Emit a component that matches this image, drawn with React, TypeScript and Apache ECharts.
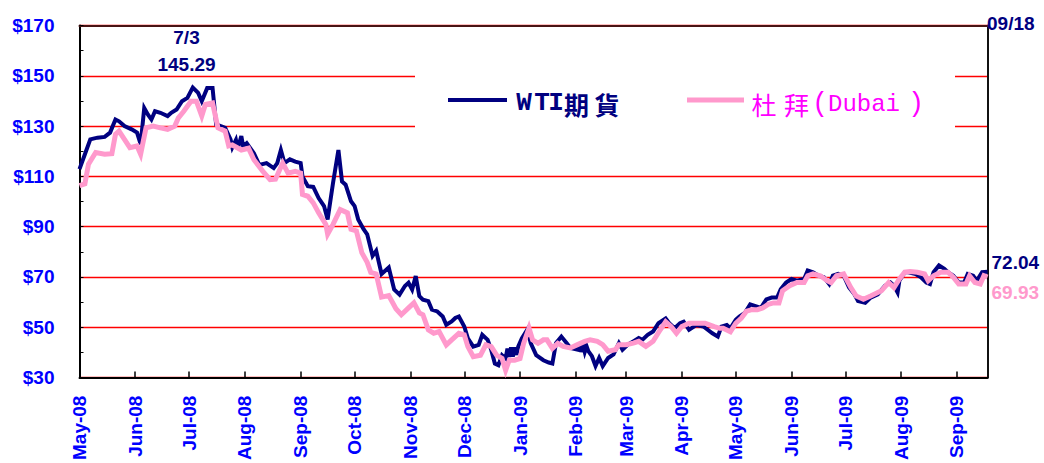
import React, { useEffect, useRef } from "react";
import * as echarts from "echarts";

const MONTH_NAMES = ["Jan", "Feb", "Mar", "Apr", "May", "Jun", "Jul", "Aug", "Sep", "Oct", "Nov", "Dec"];
const Y_TICKS = { min: 30, max: 170, interval: 20 };
const X_RANGE = { min: "2008-05-01", max: "2009-09-18" };

const SERIES_NAMES = ["WTI期貨", "杜拜(Dubai)"];

const WTI: [string, number][] = [
  ["2008-05-01", 112.9], ["2008-05-04", 118.8], ["2008-05-07", 124.7], ["2008-05-11", 125.4], ["2008-05-15", 125.7],
  ["2008-05-18", 127.4], ["2008-05-21", 132.6], ["2008-05-23", 131.9], ["2008-05-26", 130], ["2008-05-30", 128.7],
  ["2008-06-02", 127.4], ["2008-06-04", 122.8], ["2008-06-06", 137.2], ["2008-06-08", 134.6], ["2008-06-10", 132.6],
  ["2008-06-12", 135.9], ["2008-06-15", 135.3], ["2008-06-19", 134], ["2008-06-21", 135.3], ["2008-06-24", 136.6],
  ["2008-06-27", 139.9], ["2008-06-30", 141.2], ["2008-07-03", 145.29], ["2008-07-06", 143.2], ["2008-07-08", 139.9],
  ["2008-07-11", 145.1], ["2008-07-14", 145.1], ["2008-07-16", 130.7], ["2008-07-21", 129.3], ["2008-07-24", 124.7],
  ["2008-07-25", 121.5], ["2008-07-27", 124.5], ["2008-07-28", 121.0], ["2008-07-30", 126], ["2008-07-31", 122.0],
  ["2008-08-02", 123.2], ["2008-08-06", 119.2], ["2008-08-09", 114.6], ["2008-08-13", 115.3], ["2008-08-17", 113.3],
  ["2008-08-19", 115.3], ["2008-08-21", 120.5], ["2008-08-23", 115.3], ["2008-08-26", 116.8], ["2008-08-29", 115.9],
  ["2008-09-01", 115.3], ["2008-09-02", 110], ["2008-09-05", 106.1], ["2008-09-08", 105.8], ["2008-09-11", 101.4],
  ["2008-09-14", 98.2], ["2008-09-16", 92.9], ["2008-09-19", 107.4], ["2008-09-22", 120.5], ["2008-09-24", 108],
  ["2008-09-26", 106.7], ["2008-09-29", 100.1], ["2008-10-01", 98.2], ["2008-10-03", 92.9], ["2008-10-06", 89],
  ["2008-10-08", 87], ["2008-10-11", 78.4], ["2008-10-13", 80.4], ["2008-10-16", 71.2], ["2008-10-20", 73.8],
  ["2008-10-23", 65], ["2008-10-26", 63], ["2008-10-29", 66.4], ["2008-10-31", 67.7], ["2008-11-02", 65],
  ["2008-11-04", 70.4], ["2008-11-06", 62.4], ["2008-11-08", 61], ["2008-11-11", 60.4], ["2008-11-13", 57],
  ["2008-11-16", 56.3], ["2008-11-19", 54.3], ["2008-11-21", 51], ["2008-11-24", 52.3], ["2008-11-26", 53.7],
  ["2008-11-28", 54.3], ["2008-12-01", 50.3], ["2008-12-03", 45.6], ["2008-12-06", 42.3], ["2008-12-09", 43],
  ["2008-12-11", 47], ["2008-12-14", 45], ["2008-12-16", 41], ["2008-12-18", 35.6], ["2008-12-20", 34.9],
  ["2008-12-22", 38.9], ["2008-12-24", 37.6], ["2008-12-25", 41.5], ["2008-12-26", 38.2], ["2008-12-27", 42],
  ["2008-12-28", 38.3], ["2008-12-29", 42], ["2008-12-30", 39], ["2008-12-31", 42.3], ["2009-01-02", 45.6],
  ["2009-01-05", 49], ["2009-01-07", 43.6], ["2009-01-10", 38.9], ["2009-01-14", 36.9], ["2009-01-17", 36.0],
  ["2009-01-19", 35.6], ["2009-01-21", 43.7], ["2009-01-24", 46.3], ["2009-01-27", 43.7], ["2009-01-29", 41.8],
  ["2009-02-02", 41.1], ["2009-02-03", 43.5], ["2009-02-04", 40.2], ["2009-02-05", 43.2], ["2009-02-06", 40.2],
  ["2009-02-07", 42.5], ["2009-02-08", 40.5], ["2009-02-10", 38.5], ["2009-02-12", 34.6], ["2009-02-14", 37.8],
  ["2009-02-16", 34.6], ["2009-02-19", 37.8], ["2009-02-22", 39.2], ["2009-02-25", 43.7], ["2009-02-27", 41.1],
  ["2009-03-02", 43.1], ["2009-03-05", 44.4], ["2009-03-08", 45.7], ["2009-03-10", 45], ["2009-03-13", 47],
  ["2009-03-16", 48.3], ["2009-03-19", 51.6], ["2009-03-23", 53.5], ["2009-03-25", 51.6], ["2009-03-28", 49.6],
  ["2009-03-31", 51.6], ["2009-04-02", 52.2], ["2009-04-05", 49], ["2009-04-09", 50.9], ["2009-04-13", 50.3],
  ["2009-04-18", 47.6], ["2009-04-21", 46.3], ["2009-04-23", 50.3], ["2009-04-26", 50.9], ["2009-04-28", 49.6],
  ["2009-05-01", 53], ["2009-05-03", 54.3], ["2009-05-06", 55.7], ["2009-05-09", 59.1], ["2009-05-12", 58.4],
  ["2009-05-15", 57.7], ["2009-05-18", 61.1], ["2009-05-21", 61.8], ["2009-05-24", 61.8], ["2009-05-26", 65.1],
  ["2009-05-29", 67.8], ["2009-06-01", 69.2], ["2009-06-04", 68.5], ["2009-06-08", 69.2], ["2009-06-10", 72.6],
  ["2009-06-13", 71.9], ["2009-06-16", 70.5], ["2009-06-19", 69.9], ["2009-06-22", 67.2], ["2009-06-24", 70.5],
  ["2009-06-27", 71.2], ["2009-06-30", 70.5], ["2009-07-03", 65.8], ["2009-07-06", 63.1], ["2009-07-08", 60.4],
  ["2009-07-12", 59.7], ["2009-07-15", 61.8], ["2009-07-19", 63.1], ["2009-07-23", 66.5], ["2009-07-26", 67.8],
  ["2009-07-28", 66.5], ["2009-07-30", 63.8], ["2009-07-31", 68.5], ["2009-08-03", 71.9], ["2009-08-05", 71.9],
  ["2009-08-09", 71.2], ["2009-08-12", 69.9], ["2009-08-15", 67.8], ["2009-08-17", 67.2], ["2009-08-19", 71.9],
  ["2009-08-22", 74.6], ["2009-08-25", 73.2], ["2009-08-27", 71.9], ["2009-08-30", 70.5], ["2009-09-02", 67.8],
  ["2009-09-05", 67.8], ["2009-09-07", 71.2], ["2009-09-10", 70.5], ["2009-09-12", 68.5], ["2009-09-15", 71.9],
  ["2009-09-18", 72.04],
];

const DUBAI: [string, number][] = [
  ["2008-05-01", 106.3], ["2008-05-04", 107], ["2008-05-06", 114.9], ["2008-05-10", 119.5], ["2008-05-15", 118.8],
  ["2008-05-19", 119], ["2008-05-21", 126.7], ["2008-05-23", 128], ["2008-05-26", 124.7], ["2008-05-29", 121.4],
  ["2008-06-02", 122.1], ["2008-06-04", 118.8], ["2008-06-07", 129.3], ["2008-06-11", 130], ["2008-06-15", 129.3],
  ["2008-06-19", 128.7], ["2008-06-23", 130], ["2008-06-25", 133.3], ["2008-06-28", 135.9], ["2008-07-02", 139.9],
  ["2008-07-05", 139.9], ["2008-07-08", 134], ["2008-07-10", 138.6], ["2008-07-14", 139.2], ["2008-07-17", 129.3],
  ["2008-07-21", 128], ["2008-07-23", 122.1], ["2008-07-25", 122.5], ["2008-07-30", 120.5], ["2008-08-03", 121.2],
  ["2008-08-06", 116.6], ["2008-08-11", 112], ["2008-08-15", 108.7], ["2008-08-18", 108.9], ["2008-08-22", 115.3],
  ["2008-08-25", 111.3], ["2008-08-29", 112], ["2008-09-01", 111.3], ["2008-09-02", 102.8], ["2008-09-05", 102.1],
  ["2008-09-08", 99.5], ["2008-09-11", 95.5], ["2008-09-15", 90.9], ["2008-09-16", 87], ["2008-09-19", 90.9],
  ["2008-09-23", 96.8], ["2008-09-27", 95.5], ["2008-09-29", 89], ["2008-10-02", 88.3], ["2008-10-05", 79.7],
  ["2008-10-08", 75.8], ["2008-10-10", 71.8], ["2008-10-13", 71.2], ["2008-10-16", 62], ["2008-10-20", 62.6],
  ["2008-10-24", 57.4], ["2008-10-27", 55], ["2008-10-31", 57.7], ["2008-11-03", 59.7], ["2008-11-06", 55.7],
  ["2008-11-08", 55], ["2008-11-11", 49], ["2008-11-14", 47.6], ["2008-11-17", 48.3], ["2008-11-21", 43],
  ["2008-11-24", 45], ["2008-11-28", 47.6], ["2008-12-01", 47], ["2008-12-03", 42.3], ["2008-12-06", 38.3],
  ["2008-12-10", 38.9], ["2008-12-13", 43], ["2008-12-16", 42.3], ["2008-12-19", 38.9], ["2008-12-22", 37.6],
  ["2008-12-24", 32.9], ["2008-12-26", 36.9], ["2008-12-29", 36.9], ["2009-01-01", 37.6], ["2009-01-03", 43.6],
  ["2009-01-06", 49.7], ["2009-01-08", 45], ["2009-01-11", 43.6], ["2009-01-14", 45], ["2009-01-16", 45],
  ["2009-01-19", 41.6], ["2009-01-22", 43.6], ["2009-01-25", 42.4], ["2009-01-29", 41.8], ["2009-02-02", 43.1],
  ["2009-02-06", 44.4], ["2009-02-09", 45], ["2009-02-13", 44.4], ["2009-02-16", 43.1], ["2009-02-19", 40.5],
  ["2009-02-23", 41.1], ["2009-02-25", 43.1], ["2009-03-01", 43.1], ["2009-03-05", 43.7], ["2009-03-08", 44.4],
  ["2009-03-12", 42.4], ["2009-03-16", 44.4], ["2009-03-20", 49], ["2009-03-23", 52.2], ["2009-03-26", 50.3],
  ["2009-03-29", 47.6], ["2009-04-01", 50.3], ["2009-04-05", 51.6], ["2009-04-10", 51.6], ["2009-04-14", 51.6],
  ["2009-04-19", 50.3], ["2009-04-22", 49.6], ["2009-04-24", 49.6], ["2009-04-28", 48.2], ["2009-05-01", 51.6],
  ["2009-05-04", 53.6], ["2009-05-07", 56.4], ["2009-05-10", 57], ["2009-05-13", 57], ["2009-05-16", 57.7],
  ["2009-05-19", 59.1], ["2009-05-22", 59.7], ["2009-05-25", 59.7], ["2009-05-27", 64.5], ["2009-05-31", 66.5],
  ["2009-06-04", 67.8], ["2009-06-08", 67.8], ["2009-06-10", 70.5], ["2009-06-13", 71.2], ["2009-06-17", 70.5],
  ["2009-06-21", 68.5], ["2009-06-23", 67.8], ["2009-06-26", 70.5], ["2009-06-30", 71.2], ["2009-07-04", 65.8],
  ["2009-07-07", 62.4], ["2009-07-11", 61.1], ["2009-07-15", 62.4], ["2009-07-21", 64.5], ["2009-07-25", 67.8],
  ["2009-07-28", 65.8], ["2009-07-31", 69.2], ["2009-08-03", 71.9], ["2009-08-06", 72.2], ["2009-08-10", 71.9],
  ["2009-08-14", 71.2], ["2009-08-16", 68.5], ["2009-08-19", 70.5], ["2009-08-23", 71.9], ["2009-08-27", 71.9],
  ["2009-08-30", 69.9], ["2009-09-02", 67.2], ["2009-09-06", 67.2], ["2009-09-08", 70.5], ["2009-09-11", 67.8],
  ["2009-09-14", 67.2], ["2009-09-16", 70.5], ["2009-09-18", 69.93],
];

const PEAK_LABEL = { date: "7/3", value: "145.29" };
const END_LABEL = { date: "09/18", wti: "72.04", dubai: "69.93" };

const NAVY = "#000080";
const PINK = "#ff99cc";
const BLUE = "#0000ff";
const MAGENTA = "#ff00ff";
const NUM_FONT = "'Liberation Sans', Arial, sans-serif";
const MONO_FONT = "'Liberation Mono', 'DejaVu Sans Mono', monospace";
const CJK_FONT = "'Noto Sans CJK TC', 'Noto Sans CJK SC', sans-serif";

function txt(text: string, x: number, y: number, fill: string, font: string, align = "center") {
  return {
    type: "text",
    x,
    y,
    z: 10,
    style: { text, fill, font, align, verticalAlign: "middle", textAlign: align, textVerticalAlign: "middle" },
  };
}

export default function App() {
  const ref = useRef<HTMLDivElement>(null);

  useEffect(() => {
    if (!ref.current) return;
    const chart = echarts.init(ref.current, null, { renderer: "svg" });
    const DAY = 24 * 3600 * 1000;

    const option: any = {
      animation: false,
      backgroundColor: "#ffffff",
      grid: { left: 79.5, top: 25.5, width: 908, height: 353, containLabel: false },
      xAxis: [
        {
          type: "time",
          min: X_RANGE.min,
          max: X_RANGE.max,
          splitNumber: 17,
          minInterval: 28 * DAY,
          maxInterval: 31 * DAY,
          axisLine: { show: true, onZero: false, lineStyle: { color: "#000", width: 2 } },
          axisTick: { show: true, inside: true, length: 6, lineStyle: { color: "#000", width: 1.5 } },
          minorTick: { show: false },
          splitLine: { show: false },
          axisLabel: {
            rotate: 90,
            margin: 18,
            showMinLabel: true,
            showMaxLabel: false,
            hideOverlap: false,
            color: BLUE,
            fontWeight: "bold",
            fontSize: 19,
            fontFamily: NUM_FONT,
            formatter: (v: number) => {
              const d = new Date(v);
              return MONTH_NAMES[d.getMonth()] + "-" + String(d.getFullYear()).slice(2);
            },
          },
        },
        {
          type: "time",
          position: "top",
          min: X_RANGE.min,
          max: X_RANGE.max,
          axisLine: { show: true, onZero: false, lineStyle: { color: "#4a1414", width: 2 } },
          axisTick: { show: false },
          axisLabel: { show: false },
          splitLine: { show: false },
        },
      ],
      yAxis: [
        {
          type: "value",
          min: Y_TICKS.min,
          max: Y_TICKS.max,
          interval: Y_TICKS.interval,
          axisLine: { show: true, lineStyle: { color: "#000", width: 2 } },
          axisTick: { show: true, inside: true, length: 4, lineStyle: { color: "#000", width: 1 } },
          minorTick: { show: true, splitNumber: 2, length: 4, lineStyle: { color: "#000", width: 1 } },
          axisLabel: {
            margin: 25,
            color: BLUE,
            fontWeight: "bold",
            fontSize: 19,
            fontFamily: NUM_FONT,
            formatter: (v: number) => "$" + v,
          },
          splitLine: { show: true, lineStyle: { color: "#ff0000", width: 1.3 } },
        },
        {
          type: "value",
          position: "right",
          min: Y_TICKS.min,
          max: Y_TICKS.max,
          interval: Y_TICKS.interval,
          axisLine: { show: true, lineStyle: { color: "#111", width: 2 } },
          axisTick: { show: false },
          axisLabel: { show: false },
          splitLine: { show: false },
        },
      ],
      series: [
        {
          name: SERIES_NAMES[0],
          type: "line",
          data: WTI,
          showSymbol: false,
          symbol: "none",
          z: 3,
          lineStyle: { color: NAVY, width: 4, join: "miter" },
          itemStyle: { color: NAVY },
        },
        {
          name: SERIES_NAMES[1],
          type: "line",
          data: DUBAI,
          showSymbol: false,
          symbol: "none",
          z: 4,
          lineStyle: { color: PINK, width: 5, join: "miter" },
          itemStyle: { color: PINK },
        },
      ],
      graphic: [
        { type: "rect", z: 1, shape: { x: 415, y: 62, width: 540, height: 80 }, style: { fill: "#ffffff" } },
        { type: "line", z: 10, shape: { x1: 448, y1: 100, x2: 507, y2: 100 }, style: { stroke: NAVY, lineWidth: 4 } },
        txt("W", 524, 103, NAVY, `bold 26px ${MONO_FONT}`),
        txt("T", 542, 103, NAVY, `bold 26px ${MONO_FONT}`),
        txt("I", 556, 103, NAVY, `bold 26px ${MONO_FONT}`),
        txt("期", 576.5, 103.5, NAVY, `bold 25px ${CJK_FONT}`),
        txt("貨", 607, 103.5, NAVY, `bold 25px ${CJK_FONT}`),
        { type: "line", z: 10, shape: { x1: 687, y1: 100, x2: 744, y2: 100 }, style: { stroke: PINK, lineWidth: 5 } },
        txt("杜", 764, 104, MAGENTA, `25px ${CJK_FONT}`),
        txt("拜", 796.5, 104, MAGENTA, `25px ${CJK_FONT}`),
        txt("(", 820, 104, MAGENTA, `27px ${MONO_FONT}`),
        txt("Dubai", 864, 104, MAGENTA, `24px ${MONO_FONT}`),
        txt(")", 916, 104, MAGENTA, `27px ${MONO_FONT}`),
        txt(PEAK_LABEL.date, 186.5, 37, NAVY, `bold 19px ${NUM_FONT}`),
        txt(PEAK_LABEL.value, 186.5, 64, NAVY, `bold 19px ${NUM_FONT}`),
        txt(END_LABEL.date, 987, 23, NAVY, `bold 19px ${NUM_FONT}`, "left"),
        txt(END_LABEL.wti, 991.5, 262, NAVY, `bold 19px ${NUM_FONT}`, "left"),
        txt(END_LABEL.dubai, 991.5, 292, PINK, `bold 19px ${NUM_FONT}`, "left"),
      ],
    };

    chart.setOption(option);
    return () => chart.dispose();
  }, []);

  return (
    <div
      ref={ref}
      style={{ position: "fixed", left: 0, top: 0, width: 1044, height: 463, background: "#fff" }}
    />
  );
}
